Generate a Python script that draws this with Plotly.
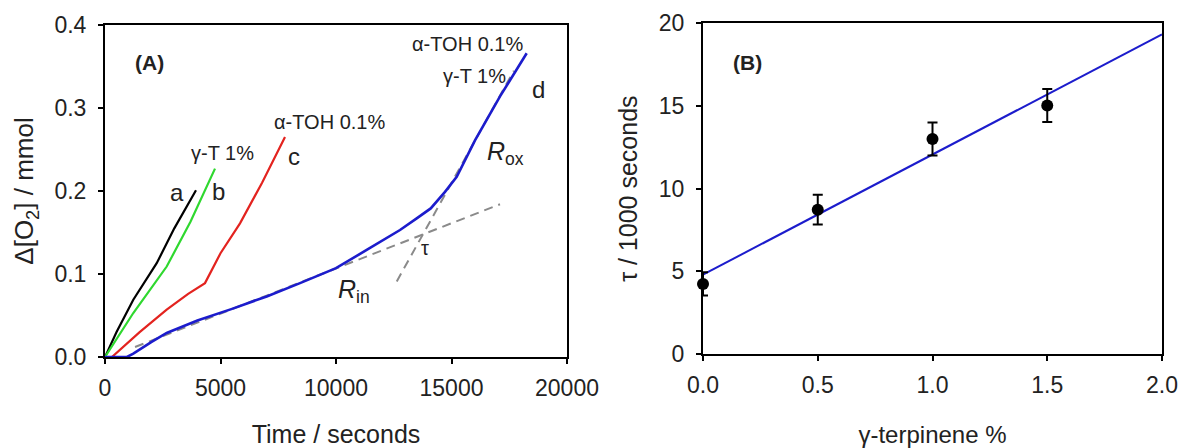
import plotly.graph_objects as go

# ---------------- Panel A data ----------------
t_a = [0, 500, 1225, 2238, 3000, 3939]
o2_a = [0, 0.03, 0.069, 0.113, 0.155, 0.201]

t_b = [0, 1225, 2671, 3700, 4762]
o2_b = [0, 0.053, 0.109, 0.163, 0.227]

t_c = [300, 1500, 2671, 3600, 4329, 5000, 5844, 6800, 7792]
o2_c = [0, 0.03, 0.057, 0.076, 0.089, 0.125, 0.161, 0.21, 0.265]

t_d = [0, 950, 1225, 2000, 2671, 4000, 5500, 7000, 8442, 10000, 11329, 12771,
       13494, 14100, 14719, 15225, 16017, 17100, 18255]
o2_d = [0, 0, 0.004, 0.018, 0.029, 0.044, 0.058, 0.073, 0.089, 0.107, 0.129, 0.153,
        0.167, 0.179, 0.199, 0.217, 0.261, 0.314, 0.366]

rin_t = [1300, 17100]
rin_o2 = [0.012, 0.184]
rox_t = [12630, 17700]
rox_o2 = [0.091, 0.345]

# ---------------- Panel B data ----------------
gt_pct = [0.0, 0.5, 1.0, 1.5]
tau_k = [4.24, 8.73, 13.0, 15.03]
tau_err = [0.7, 0.9, 1.0, 1.0]
fit_x = [0.0, 2.0]
fit_y = [4.8, 19.33]

FONT = "Liberation Sans, Arial, sans-serif"
TXT = "#222"

fig = go.Figure()

dash = dict(color="#8a8a8a", width=2, dash="9px,6px")
fig.add_trace(go.Scatter(x=rin_t, y=rin_o2, mode="lines", line=dash,
                         xaxis="x", yaxis="y", showlegend=False))
fig.add_trace(go.Scatter(x=rox_t, y=rox_o2, mode="lines", line=dash,
                         xaxis="x", yaxis="y", showlegend=False))
fig.add_trace(go.Scatter(x=t_a, y=o2_a, mode="lines", line=dict(color="black", width=2.2),
                         xaxis="x", yaxis="y", showlegend=False))
fig.add_trace(go.Scatter(x=t_b, y=o2_b, mode="lines", line=dict(color="#2fd82f", width=2.2),
                         xaxis="x", yaxis="y", showlegend=False))
fig.add_trace(go.Scatter(x=t_c, y=o2_c, mode="lines", line=dict(color="#e3231f", width=2.2),
                         xaxis="x", yaxis="y", showlegend=False))
fig.add_trace(go.Scatter(x=t_d, y=o2_d, mode="lines", line=dict(color="#1c1ccc", width=2.6),
                         xaxis="x", yaxis="y", showlegend=False))

fig.add_trace(go.Scatter(x=fit_x, y=fit_y, mode="lines", line=dict(color="#1c1ccc", width=2),
                         xaxis="x2", yaxis="y2", showlegend=False, cliponaxis=False))
fig.add_trace(go.Scatter(x=gt_pct, y=tau_k, mode="markers",
                         marker=dict(color="black", size=12),
                         error_y=dict(type="data", array=tau_err, color="black",
                                      thickness=2, width=5),
                         xaxis="x2", yaxis="y2", showlegend=False, cliponaxis=False))

axis_common = dict(showline=True, linecolor="black", linewidth=2, mirror=True,
                   ticks="outside", ticklen=5, tickwidth=2, tickcolor="black",
                   showgrid=False, zeroline=False, automargin=False,
                   tickfont=dict(family=FONT, size=23, color=TXT))

fig.update_layout(
    width=1182, height=448,
    margin=dict(l=0, r=0, t=0, b=0),
    paper_bgcolor="white", plot_bgcolor="white",
    font=dict(family=FONT, color=TXT),
    xaxis=dict(domain=[105/1182, 567/1182], range=[0, 20000],
               tickvals=[0, 5000, 10000, 15000, 20000],
               ticktext=["0", "5000", "10000", "15000", "20000"],
               ticklabelstandoff=4,
               title=dict(text="Time / seconds", font=dict(family=FONT, size=25, color=TXT),
                          standoff=30),
               anchor="y", **axis_common),
    yaxis=dict(domain=[1-357/448, 1-25/448], range=[0, 0.4],
               tickvals=[0, 0.1, 0.2, 0.3, 0.4],
               ticktext=["0.0", "0.1", "0.2", "0.3", "0.4"],
               ticklabelstandoff=7,
               title=dict(text="Δ[O<sub>2</sub>] / mmol", font=dict(family=FONT, size=26, color=TXT),
                          standoff=13),
               anchor="x", **axis_common),
    xaxis2=dict(domain=[703/1182, 1162/1182], range=[0, 2.0],
                tickvals=[0, 0.5, 1.0, 1.5, 2.0],
                ticktext=["0.0", "0.5", "1.0", "1.5", "2.0"],
                ticklabelstandoff=4,
                title=dict(text="γ-terpinene %", font=dict(family=FONT, size=24, color=TXT),
                           standoff=31),
                anchor="y2", **axis_common),
    yaxis2=dict(domain=[1-354/448, 1-23.3/448], range=[0, 20],
                tickvals=[0, 5, 10, 15, 20],
                ticklabelstandoff=7,
                title=dict(text="τ / 1000 seconds", font=dict(family=FONT, size=25, color=TXT),
                           standoff=14),
                anchor="x2", **axis_common),
)

def ann(x, y, text, size, xref="x", yref="y", **kw):
    fig.add_annotation(x=x, y=y, xref=xref, yref=yref, text=text, showarrow=False,
                       font=dict(family=FONT, size=size, color=TXT), **kw)

ann(1905, 0.355, "<b>(A)</b>", 21)
ann(3117, 0.198, "a", 24)
ann(4892, 0.200, "b", 24)
ann(5108, 0.246, "γ-T 1%", 20)
ann(8182, 0.242, "c", 24)
ann(9740, 0.283, "α-TOH 0.1%", 20)
ann(15671, 0.377, "α-TOH 0.1%", 20)
ann(16017, 0.3386, "γ-T 1%", 20)
ann(18745, 0.322, "d", 24)
ann(17359, 0.246, "<i>R</i><sub>ox</sub>", 25)
ann(13853, 0.131, "τ", 20)
ann(10779, 0.0795, "<i>R</i><sub>in</sub>", 25)

ann(0.196, 17.65, "<b>(B)</b>", 21, xref="x2", yref="y2")

fig.write_html("out.html", config={"displayModeBar": False},
               post_script="document.body.style.margin='0';document.body.style.overflow='hidden';")
